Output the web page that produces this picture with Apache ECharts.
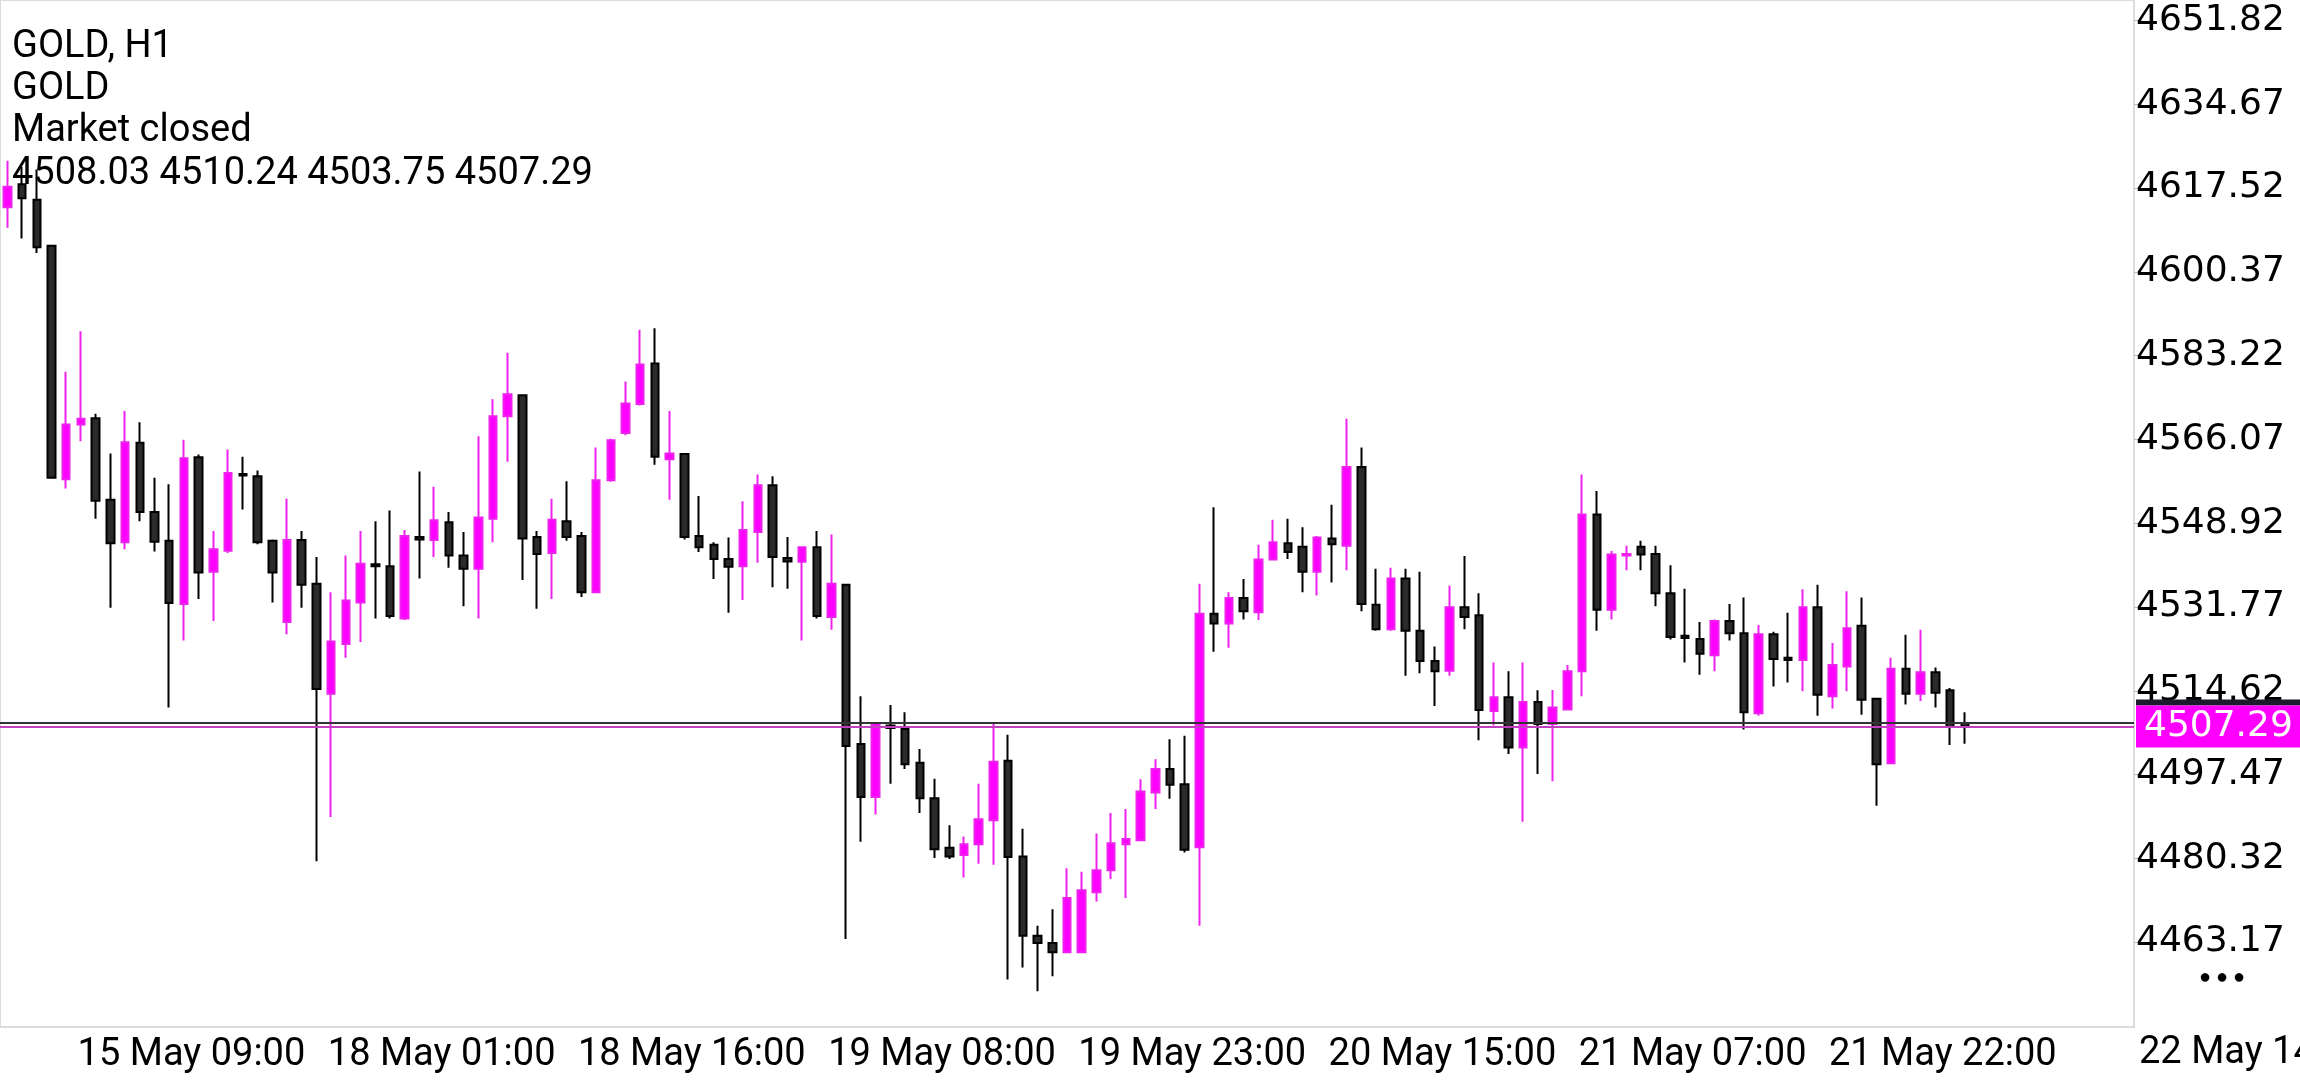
<!DOCTYPE html>
<html>
<head>
<meta charset="utf-8">
<script src="https://cdn.jsdelivr.net/npm/echarts@6/dist/echarts.min.js"></script>
<style>
  html, body { margin: 0; padding: 0; background: #fff; }
  #chart { width: 2300px; height: 1080px; }
</style>
</head>
<body>
<div id="chart"></div>
<script>
// OHLC per hourly bar
var opens = [4613.6,4618.3,4615.1,4605.7,4557.9,4569.1,4570.4,4553.7,4545.0,4565.4,4551.2,4545.3,4532.4,4562.4,4539.0,4543.3,4559.0,4558.5,4545.3,4528.7,
  4545.5,4536.5,4514.0,4524.2,4532.7,4540.5,4540.1,4529.4,4546.1,4545.5,4549.1,4542.3,4539.6,4549.8,4570.8,4575.1,4546.1,4542.8,4549.3,4546.3,
  4534.8,4557.7,4567.4,4573.3,4581.6,4562.0,4563.1,4546.3,4544.5,4541.6,4540.1,4547.1,4556.7,4541.8,4541.0,4544.0,4529.7,4536.3,4503.7,4492.9,
  4507.5,4506.8,4499.9,4492.6,4482.5,4481.0,4483.2,4488.1,4500.3,4480.7,4464.5,4463.0,4461.1,4461.1,4473.4,4477.9,4483.2,4484.0,4493.8,4498.6,
  4495.5,4482.6,4530.4,4528.4,4533.6,4530.7,4541.5,4544.8,4544.1,4539.0,4545.8,4544.3,4560.4,4532.2,4527.2,4537.6,4526.9,4520.7,4518.7,4531.7,
  4530.1,4510.5,4513.3,4503.0,4512.3,4507.8,4510.8,4518.6,4550.7,4531.2,4542.3,4544.1,4542.6,4534.6,4525.9,4525.2,4521.9,4528.9,4526.4,4510.0,
  4526.2,4521.4,4520.9,4531.7,4513.5,4519.6,4527.9,4513.0,4499.8,4519.1,4514.0,4518.4,4514.7,4508.03];
var closes = [4617.8,4615.4,4605.4,4558.2,4569.1,4570.3,4553.5,4544.8,4565.5,4551.2,4545.1,4532.6,4562.2,4538.8,4543.6,4559.2,4558.7,4545.0,4538.8,4545.5,
  4536.3,4515.0,4524.7,4533.1,4540.6,4540.1,4529.9,4546.3,4545.6,4549.5,4542.3,4539.6,4550.1,4570.8,4575.3,4545.8,4542.6,4549.6,4546.1,4534.8,
  4557.7,4565.9,4573.4,4581.4,4562.5,4563.2,4546.1,4544.0,4541.6,4540.0,4547.5,4556.7,4542.0,4541.1,4544.0,4529.9,4536.5,4503.3,4492.9,4508.0,
  4507.0,4499.6,4492.6,4482.2,4480.7,4483.2,4488.3,4500.1,4480.6,4464.5,4463.0,4461.1,4472.2,4473.8,4477.9,4483.4,4484.3,4494.0,4498.6,4495.4,
  4482.1,4530.4,4528.4,4533.6,4530.9,4541.5,4545.0,4543.0,4539.0,4546.0,4544.6,4560.4,4532.4,4527.2,4537.6,4526.9,4520.7,4518.6,4531.7,4529.7,
  4510.7,4513.3,4503.0,4512.3,4507.8,4511.2,4518.6,4550.7,4531.2,4542.5,4542.6,4542.5,4534.6,4525.6,4525.4,4522.2,4528.9,4526.4,4510.2,4526.2,
  4521.1,4520.9,4531.7,4513.8,4519.9,4527.4,4512.8,4499.6,4519.1,4514.0,4518.4,4514.2,4507.2,4507.29];
var lows = [4609.4,4607.2,4604.2,4558.0,4556.0,4565.7,4549.8,4531.6,4543.6,4549.3,4543.1,4511.2,4524.9,4533.4,4528.9,4542.8,4551.7,4544.6,4532.7,4526.2,
  4531.6,4479.7,4488.8,4521.4,4524.6,4529.4,4529.4,4529.1,4537.6,4542.0,4539.8,4531.9,4529.4,4545.0,4561.5,4537.3,4531.4,4533.4,4545.3,4533.8,
  4534.6,4557.4,4566.9,4573.0,4560.9,4553.7,4545.6,4543.0,4537.5,4530.6,4533.2,4540.8,4535.8,4535.5,4524.9,4529.4,4527.1,4463.8,4483.7,4489.3,
  4495.6,4498.6,4489.6,4480.4,4480.2,4476.4,4479.2,4479.0,4455.5,4458.0,4453.1,4456.2,4461.0,4461.0,4471.5,4476.1,4472.2,4483.9,4490.4,4492.5,
  4481.5,4466.5,4522.6,4523.4,4529.2,4529.1,4541.4,4541.6,4534.8,4534.1,4536.8,4539.3,4530.9,4526.9,4526.9,4517.7,4518.2,4511.5,4517.7,4527.2,
  4504.5,4507.5,4501.7,4487.8,4497.6,4496.1,4510.8,4513.5,4526.9,4529.2,4539.3,4539.3,4531.9,4525.1,4520.4,4517.9,4518.6,4524.9,4506.7,4509.5,
  4515.5,4516.3,4514.5,4509.5,4511.0,4514.5,4509.7,4491.1,4499.8,4511.8,4512.5,4511.2,4503.5,4503.75];
var highs = [4623.1,4621.8,4621.3,4605.9,4579.9,4588.2,4571.3,4563.2,4571.9,4569.6,4558.2,4556.9,4566.0,4563.0,4547.3,4564.0,4562.5,4559.7,4545.6,4553.9,
  4547.3,4542.0,4534.8,4542.3,4547.3,4549.3,4551.5,4547.5,4559.5,4556.4,4551.2,4547.1,4566.7,4574.3,4583.8,4575.3,4547.3,4553.9,4557.5,4547.1,
  4564.4,4566.2,4577.9,4588.5,4588.8,4571.9,4563.1,4554.5,4545.0,4546.0,4553.4,4558.9,4558.5,4546.1,4544.0,4547.3,4546.6,4536.5,4513.5,4508.2,
  4511.7,4510.2,4502.7,4496.6,4487.1,4484.8,4495.6,4508.0,4505.6,4486.4,4466.5,4469.9,4478.3,4477.6,4485.4,4489.6,4490.4,4496.5,4500.6,4504.7,
  4505.4,4536.5,4552.2,4534.8,4537.5,4544.5,4549.6,4549.8,4548.1,4546.3,4552.7,4570.3,4564.4,4539.6,4539.8,4539.6,4539.0,4523.7,4536.1,4542.2,
  4534.6,4520.4,4518.6,4520.4,4514.7,4514.8,4519.9,4558.9,4555.5,4543.2,4544.3,4545.3,4544.3,4540.3,4535.5,4528.7,4529.2,4532.4,4533.7,4528.1,
  4526.7,4530.6,4535.4,4536.3,4524.4,4535.0,4533.7,4513.0,4521.4,4526.1,4527.1,4519.4,4515.2,4510.24];

var timeLabels = ['15 May 09:00','18 May 01:00','18 May 16:00','19 May 08:00','19 May 23:00','20 May 15:00','21 May 07:00','21 May 22:00'];
var labelBars = [12, 29, 46, 63, 80, 97, 114, 131];
var priceTicks = [4463.17,4480.32,4497.47,4514.62,4531.77,4548.92,4566.07,4583.22,4600.37,4617.52,4634.67,4651.82];
var bidPrice = 4507.29;
var askPrice = 4508.1;
var slots = 145;

var cats = [];
for (var i = 0; i < slots; i++) cats.push(String(i));
var candles = [];
for (var i = 0; i < opens.length; i++) candles.push([opens[i], closes[i], lows[i], highs[i]]);

var font = 'Roboto';
var axFont = 'DejaVu Sans';
var chart = echarts.init(document.getElementById('chart'));
var option = {
  animation: false,
  grid: { left: 0, right: 166, top: 0, bottom: 53, show: true, borderColor: '#dcdcdc', borderWidth: 2 },
  xAxis: {
    type: 'category',
    data: cats,
    boundaryGap: true,
    axisLine: { show: false },
    axisTick: { show: false },
    axisLabel: {
      interval: function (idx) { return labelBars.indexOf(idx) >= 0; },
      formatter: function (v, idx) { return timeLabels[labelBars.indexOf(idx)] || ''; },
      fontFamily: font, fontSize: 38, color: '#000', margin: 9, padding: [0, 0, 0, 15]
    },
    splitLine: { show: false }
  },
  yAxis: {
    type: 'value',
    position: 'right',
    min: 4445.8,
    max: 4656.0,
    scale: true,
    axisLine: { show: true, lineStyle: { color: '#dcdcdc', width: 2 } },
    axisTick: { show: true, customValues: priceTicks, length: 8, lineStyle: { color: '#bbb' } },
    axisLabel: {
      customValues: priceTicks,
      formatter: function (v) { return v.toFixed(2); },
      fontFamily: axFont, fontSize: 36, color: '#000', margin: 2
    },
    splitLine: { show: false }
  },
  series: [{
    type: 'candlestick',
    data: candles,
    barWidth: 8,
    itemStyle: {
      color: '#ff00ff', color0: '#2b2b2b',
      borderColor: '#ee22ee', borderColor0: '#000',
      borderWidth: 2
    },
    markLine: {
      silent: true, symbol: 'none', label: { show: false },
      data: [
        { yAxis: askPrice, lineStyle: { color: '#333', width: 2, type: 'solid' } },
        { yAxis: bidPrice, lineStyle: { color: '#c040c0', width: 2, type: 'solid' } }
      ]
    }
  }]
};
chart.setOption(option);

var yBid = chart.convertToPixel({ yAxisIndex: 0 }, bidPrice);
var tf = function (x, y, t, extra) {
  var s = { text: t, fontFamily: font, fontSize: 38, fill: '#000' };
  for (var k in extra) s[k] = extra[k];
  return { type: 'text', left: x, top: y, style: s, z: 100 };
};
chart.setOption({
  graphic: [
    tf(12, 28, 'GOLD, H1'),
    tf(12, 70, 'GOLD'),
    tf(12, 112, 'Market closed'),
    tf(12, 155, opens[opens.length - 1].toFixed(2) + ' ' + highs[highs.length - 1].toFixed(2) + ' ' +
      lows[lows.length - 1].toFixed(2) + ' ' + closes[closes.length - 1].toFixed(2)),
    { type: 'rect', shape: { x: 2136, y: yBid - 27, width: 164, height: 6 }, style: { fill: '#1a1a2a' }, z: 100 },
    { type: 'rect', shape: { x: 2136, y: yBid - 21, width: 164, height: 42 }, style: { fill: '#ff00ff' }, z: 100 },
    { type: 'text', x: 2144, y: yBid, style: { text: bidPrice.toFixed(2), fontFamily: axFont, fontSize: 36, fill: '#fff', verticalAlign: 'middle' }, z: 101 },
    { type: 'text', x: 2199, y: 978, style: { text: '\u25CF \u25CF \u25CF', fontFamily: font, fontSize: 20, fill: '#000', verticalAlign: 'middle' }, z: 100 },
    tf(2139, 1034, '22 May 14:00')
  ]
});
</script>
</body>
</html>
